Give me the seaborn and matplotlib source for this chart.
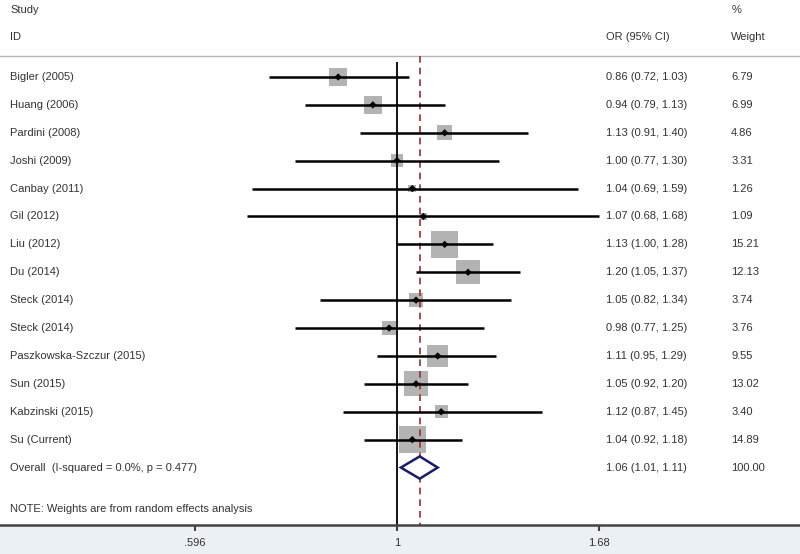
import numpy as np
import pandas as pd
import matplotlib
matplotlib.use("Agg")
import matplotlib.pyplot as plt
import seaborn as sns

# Study level data
studies = ["Bigler (2005)", "Huang (2006)", "Pardini (2008)", "Joshi (2009)",
           "Canbay (2011)", "Gil (2012)", "Liu (2012)", "Du (2014)",
           "Steck (2014)", "Steck (2014)", "Paszkowska-Szczur (2015)",
           "Sun (2015)", "Kabzinski (2015)", "Su (Current)"]
odds = [0.86, 0.94, 1.13, 1.00, 1.04, 1.07, 1.13, 1.20, 1.05, 0.98, 1.11, 1.05, 1.12, 1.04]
ci_low = [0.72, 0.79, 0.91, 0.77, 0.69, 0.68, 1.00, 1.05, 0.82, 0.77, 0.95, 0.92, 0.87, 0.92]
ci_high = [1.03, 1.13, 1.40, 1.30, 1.59, 1.68, 1.28, 1.37, 1.34, 1.25, 1.29, 1.20, 1.45, 1.18]
weights = [6.79, 6.99, 4.86, 3.31, 1.26, 1.09, 15.21, 12.13, 3.74, 3.76, 9.55, 13.02, 3.40, 14.89]

overall_label = "Overall  (I-squared = 0.0%, p = 0.477)"
overall_or = 1.06
overall_low = 1.01
overall_high = 1.11
overall_weight = 100.00

tick_vals = [0.596, 1, 1.68]
tick_labels = [".596", "1", "1.68"]

df = pd.DataFrame({"study": studies, "or": odds, "lo": ci_low, "hi": ci_high, "w": weights})
df["row"] = np.arange(len(df))
overall_row = len(df)

sns.set_style("white")
plt.rcParams["font.family"] = ["Liberation Sans", "DejaVu Sans"]
txt = "#333333"

fig = plt.figure(figsize=(8, 5.54), dpi=100)
fig.patch.set_facecolor("#eaf0f3")
ax = fig.add_axes([0, 29 / 554, 1, 525 / 554])
ax.set_facecolor("white")

ax.set_xscale("log")
ax.set_xlim(np.exp(-397 / 390), np.exp(403 / 390))
ax.set_ylim(16.06, -2.76)

# reference lines
ax.axhline(-0.75, color="#b5b5b5", lw=1)
ax.vlines(1, -0.54, 16.06, color="black", lw=1.3)
ax.vlines(overall_or, -0.75, 16.06, color="#9b2d30", lw=1.2, linestyles=(0, (4, 3)))

# confidence intervals
ax.hlines(df["row"], df["lo"], df["hi"], color="black", lw=1.8, zorder=2)

# weight boxes (area proportional to weight)
sns.scatterplot(data=df, x="or", y="row", size="w", sizes=(0, 2470), size_norm=(0, 100),
                marker="s", color="#b3b3b3", edgecolor="none", legend=False, ax=ax, zorder=1)
sns.scatterplot(data=df, x="or", y="row", marker="D", s=14, color="black",
                edgecolor="none", legend=False, ax=ax, zorder=3)

# overall diamond
ax.fill([overall_low, overall_or, overall_high, overall_or],
        [overall_row, overall_row - 0.4, overall_row, overall_row + 0.4],
        facecolor="white", edgecolor="#1a1a6e", lw=1.8, zorder=4)

# text columns
tr = ax.get_yaxis_transform()
fs = 8
ax.text(0.0125, -2.4, "Study", transform=tr, fontsize=fs, color=txt, va="center")
ax.text(0.0125, -1.43, "ID", transform=tr, fontsize=fs, color=txt, va="center")
ax.text(0.757, -1.43, "OR (95% CI)", transform=tr, fontsize=fs, color=txt, va="center")
ax.text(0.914, -2.4, "%", transform=tr, fontsize=fs, color=txt, va="center")
ax.text(0.914, -1.43, "Weight", transform=tr, fontsize=fs, color=txt, va="center")

for _, r in df.iterrows():
    ax.text(0.0125, r["row"], r["study"], transform=tr, fontsize=fs, color=txt, va="center")
    ax.text(0.757, r["row"], f"{r['or']:.2f} ({r['lo']:.2f}, {r['hi']:.2f})",
            transform=tr, fontsize=fs, color=txt, va="center")
    ax.text(0.914, r["row"], f"{r['w']:.2f}", transform=tr, fontsize=fs, color=txt, va="center")

ax.text(0.0125, overall_row, overall_label, transform=tr, fontsize=fs, color=txt, va="center")
ax.text(0.757, overall_row, f"{overall_or:.2f} ({overall_low:.2f}, {overall_high:.2f})",
        transform=tr, fontsize=fs, color=txt, va="center")
ax.text(0.914, overall_row, f"{overall_weight:.2f}", transform=tr, fontsize=fs, color=txt, va="center")
ax.text(0.0125, 15.5, "NOTE: Weights are from random effects analysis", transform=tr,
        fontsize=fs, color=txt, va="center")

# bottom axis
for s in ["top", "left", "right"]:
    ax.spines[s].set_visible(False)
ax.spines["bottom"].set_color("#444444")
ax.spines["bottom"].set_linewidth(1.8)
ax.set_xticks(tick_vals)
ax.set_xticklabels(tick_labels)
ax.xaxis.set_minor_locator(matplotlib.ticker.NullLocator())
ax.tick_params(axis="x", direction="out", length=4.5, width=1.5, color="#444444",
               labelsize=fs, labelcolor=txt, pad=5, bottom=True)
ax.set_yticks([])
ax.set_xlabel("")
ax.set_ylabel("")

fig.savefig("out.png", dpi=100, facecolor=fig.get_facecolor())
